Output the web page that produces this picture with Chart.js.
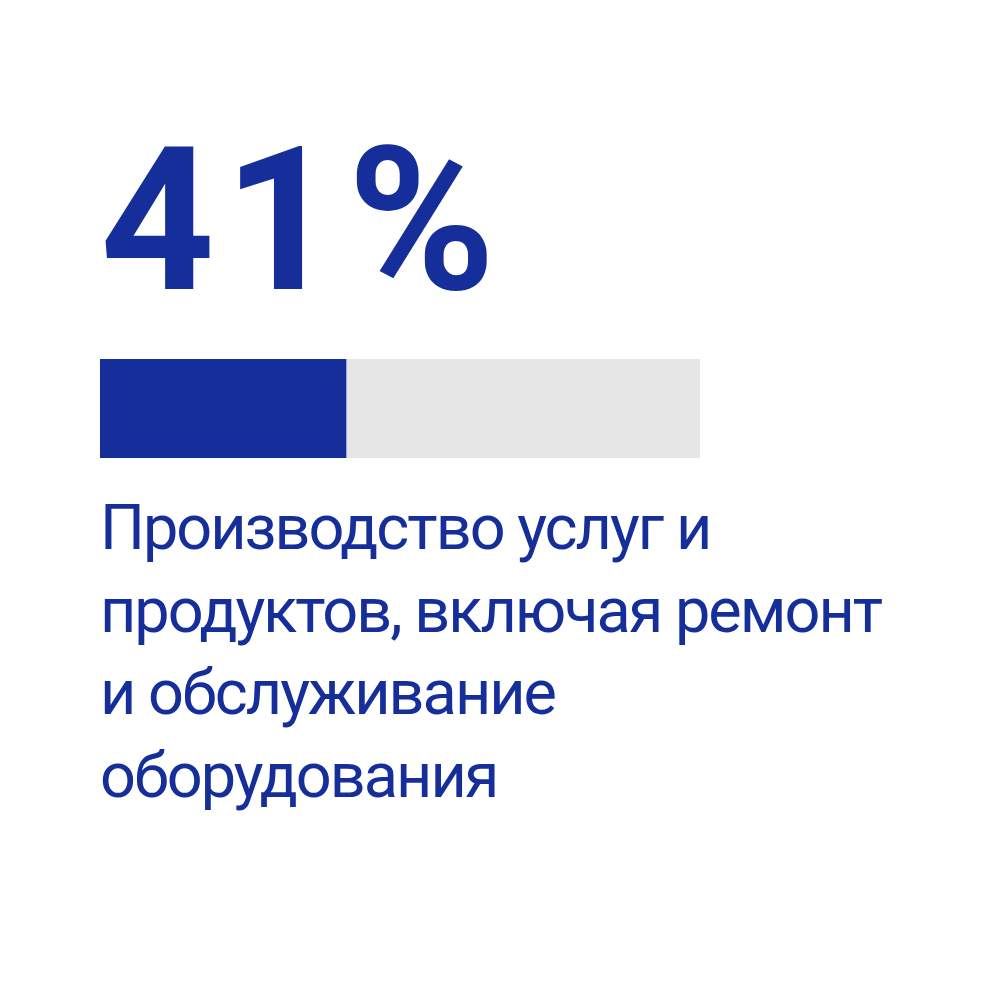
<!DOCTYPE html>
<html>
<head>
<meta charset="utf-8">
<script src="https://cdn.jsdelivr.net/npm/chart.js@4"></script>
<style>
  html, body { margin: 0; padding: 0; background: #fff; }
  #page { position: relative; width: 1000px; height: 1000px; overflow: hidden; }
  #big {
    position: absolute; left: 100px; top: 121px;
    font-family: Roboto, sans-serif; font-weight: 700;
    font-size: 200px; line-height: 200px; color: #162e9a;
    letter-spacing: 9px; white-space: nowrap;
  }
  #barBox { position: absolute; left: 100px; top: 359px; width: 600px; height: 99px; }
  #caption {
    position: absolute; left: 100px; top: 487px;
    font-family: Roboto, sans-serif; font-weight: 400;
    font-size: 63px; line-height: 82.5px; color: #162e9a;
    letter-spacing: -2px; white-space: nowrap;
  }
</style>
</head>
<body>
<div id="page">
  <div id="big"></div>
  <div id="barBox"><canvas id="bar"></canvas></div>
  <div id="caption"></div>
</div>
<script>
const categories = ['Производство услуг и продуктов']
const shareValues = [41]
const totalValues = [100]
const captionLines = [
  'Производство услуг и',
  'продуктов, включая ремонт',
  'и обслуживание',
  'оборудования'
]

document.getElementById('big').textContent = shareValues[0] + '%'
document.getElementById('caption').innerHTML = captionLines.join('<br>')

var ctx = document.getElementById('bar').getContext('2d')

const chart = new Chart(ctx, {
    type: 'bar',
    data: {
        labels: categories,
        datasets: [{
            data: shareValues,
            backgroundColor: '#162e9a',
            order: 0
        }, {
            data: totalValues,
            backgroundColor: '#e6e6e6',
            order: 1
        }]
    },
    options: {
        indexAxis: 'y',
        responsive: true,
        maintainAspectRatio: false,
        animation: false,
        layout: { padding: 0 },
        datasets: {
            bar: {
                grouped: false,
                barPercentage: 1,
                categoryPercentage: 1,
                borderWidth: 0
            }
        },
        plugins: {
            legend: { display: false },
            tooltip: { enabled: false }
        },
        scales: {
            x: { display: false, min: 0, max: 100 },
            y: { display: false }
        }
    }
})
</script>
</body>
</html>
